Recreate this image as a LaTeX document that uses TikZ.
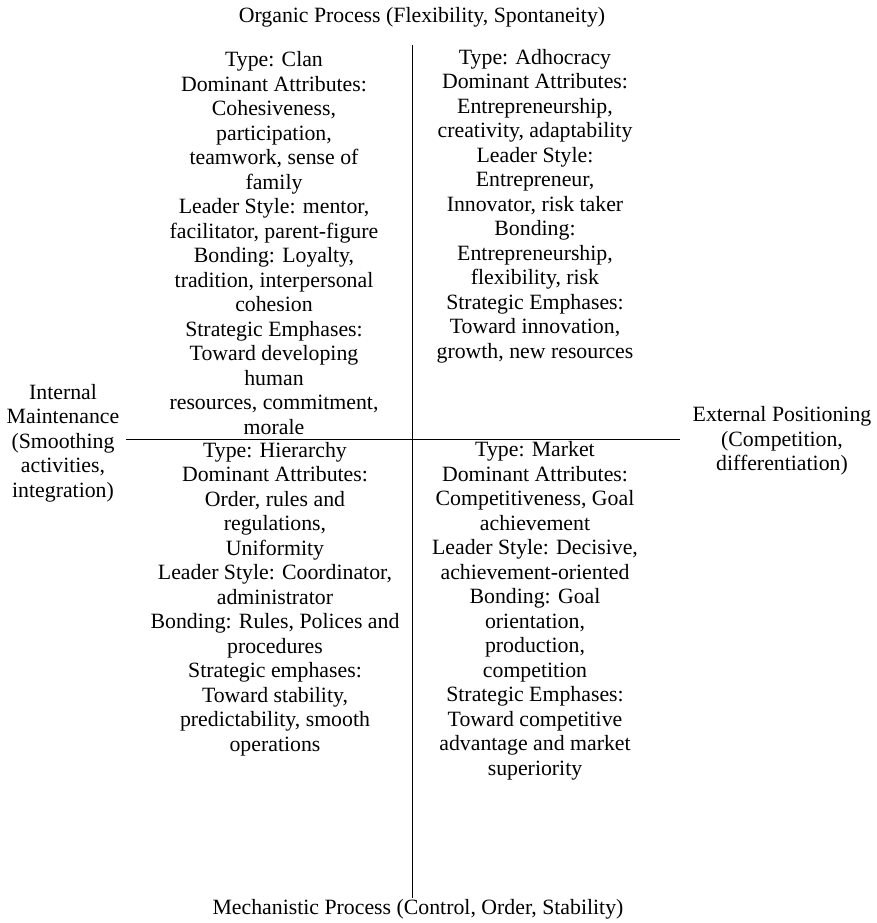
\documentclass[tikz,border=0pt]{standalone}
\usepackage{fontspec}
\setmainfont{Liberation Serif}
\newcommand\quadtextstyle{\fontsize{21.8}{24.5}\selectfont}
\newcommand\axislinewidth{0.9pt}
\tikzset{
  quadtext/.style={align=center, inner sep=0pt, font=\quadtextstyle},
  axisline/.style={line width=\axislinewidth, black}
}

\begin{document}
\begin{tikzpicture}[x=1pt, y=-1pt]
    \useasboundingbox (0, 0) rectangle (876, 923);
    \coordinate (axN) at (412, 45);
    \coordinate (axS) at (412, 898);
    \coordinate (axW) at (126, 439);
    \coordinate (axE) at (680, 439);
    \draw [axisline] (axN) -- (axS);
    \draw [axisline] (axW) -- (axE);
    \node [quadtext] (organic) at (422, 17) {Organic Process (Flexibility, Spontaneity)};
    \node [quadtext] (mechanistic) at (418, 909) {Mechanistic Process (Control, Order, Stability)};
    \node [quadtext] (internal) at (63, 443) {Internal\\Maintenance\\(Smoothing\\activities,\\integration)};
    \node [quadtext] (external) at (782, 441) {External Positioning\\(Competition,\\differentiation)};
    \node [quadtext] (clan) at (274, 243) {Type: Clan\\Dominant Attributes:\\Cohesiveness,\\participation,\\teamwork, sense of\\family\\Leader Style: mentor,\\facilitator, parent-figure\\Bonding: Loyalty,\\tradition, interpersonal\\cohesion\\Strategic Emphases:\\Toward developing\\human\\resources, commitment,\\morale};
    \node [quadtext] (adhocracy) at (535, 206) {Type: Adhocracy\\Dominant Attributes:\\Entrepreneurship,\\creativity, adaptability\\Leader Style:\\Entrepreneur,\\Innovator, risk taker\\Bonding:\\Entrepreneurship,\\flexibility, risk\\Strategic Emphases:\\Toward innovation,\\growth, new resources};
    \node [quadtext] (hierarchy) at (275, 599) {Type: Hierarchy\\Dominant Attributes:\\Order, rules and\\regulations,\\Uniformity\\Leader Style: Coordinator,\\administrator\\Bonding: Rules, Polices and\\procedures\\Strategic emphases:\\Toward stability,\\predictability, smooth\\operations};
    \node [quadtext] (market) at (535, 611) {Type: Market\\Dominant Attributes:\\Competitiveness, Goal\\achievement\\Leader Style: Decisive,\\achievement-oriented\\Bonding: Goal\\orientation,\\production,\\competition\\Strategic Emphases:\\Toward competitive\\advantage and market\\superiority};
  \end{tikzpicture}
\end{document}
